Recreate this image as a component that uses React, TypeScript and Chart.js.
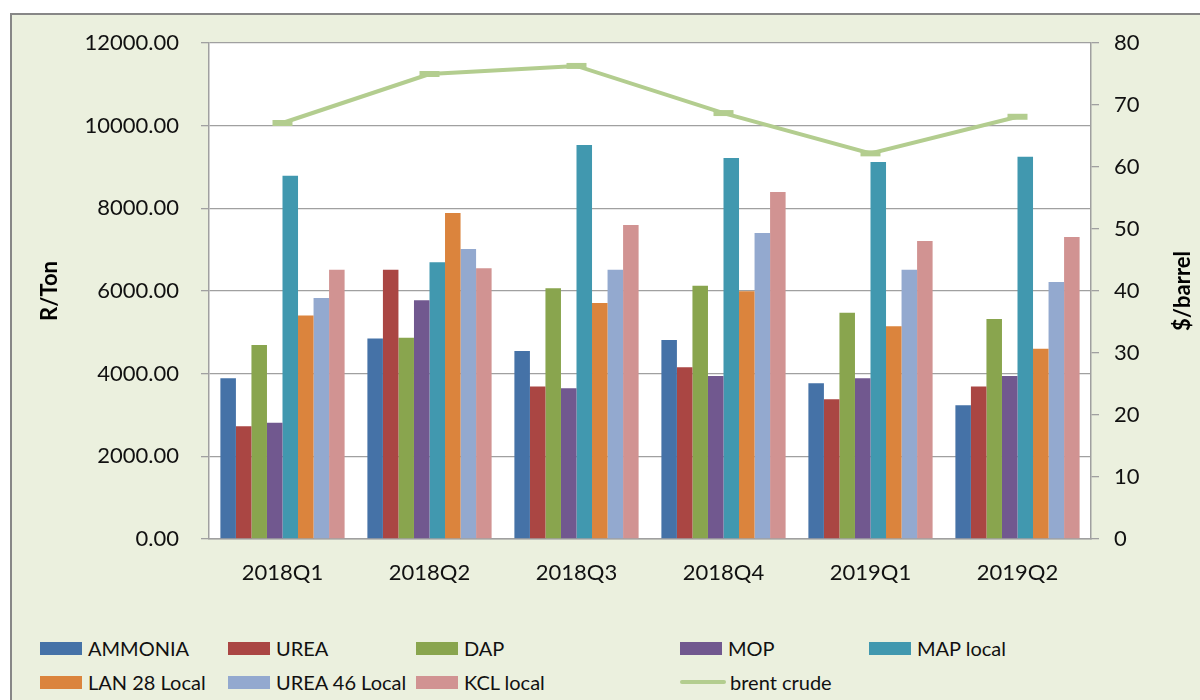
import React, { useEffect, useRef } from "react";
import { Chart, registerables } from "chart.js";

Chart.register(...registerables);

const categories = ["2018Q1", "2018Q2", "2018Q3", "2018Q4", "2019Q1", "2019Q2"];
const ammonia = [3890, 4850, 4550, 4815, 3770, 3235];
const urea = [2730, 6515, 3690, 4155, 3380, 3690];
const dap = [4695, 4870, 6065, 6130, 5475, 5320];
const mop = [2815, 5775, 3645, 3945, 3890, 3945];
const mapLocal = [8790, 6695, 9535, 9220, 9120, 9245];
const lan28Local = [5410, 7890, 5710, 5995, 5145, 4605];
const urea46Local = [5830, 7015, 6515, 7405, 6515, 6220];
const kclLocal = [6515, 6550, 7595, 8395, 7210, 7305];
const brentCrude = [67.1, 75.0, 76.3, 68.7, 62.2, 68.1];

const barNames = ["AMMONIA", "UREA", "DAP", "MOP", "MAP local", "LAN 28 Local", "UREA 46 Local", "KCL local"];
const barColors = ["#4572A7", "#AA4643", "#89A54E", "#71588F", "#4198AF", "#DB843D", "#93A9CF", "#D19392"];
const barSeries = [ammonia, urea, dap, mop, mapLocal, lan28Local, urea46Local, kclLocal];
const lineName = "brent crude";
const lineColor = "#B3CD8F";

const leftAxisTitle = "R/Ton";
const rightAxisTitle = "$/barrel";

const FONT = "Lato, 'Open Sans', sans-serif";

// legend placement (columns / rows)
const legendColX = [40, 228, 416, 680, 869];
const legendRowY = [648, 682];

export default function App() {
  const canvasRef = useRef<HTMLCanvasElement | null>(null);

  useEffect(() => {
    if (!canvasRef.current) return;
    const plotPlugin = {
      id: "plotDecor",
      beforeDraw(chart: any) {
        const { ctx, chartArea } = chart;
        ctx.save();
        ctx.fillStyle = "#FFFFFF";
        ctx.fillRect(chartArea.left, chartArea.top, chartArea.right - chartArea.left, chartArea.bottom - chartArea.top);
        ctx.restore();
      },
      afterDraw(chart: any) {
        const { ctx, chartArea } = chart;
        ctx.save();
        ctx.translate(1183, (chartArea.top + chartArea.bottom) / 2);
        ctx.rotate(-Math.PI / 2);
        ctx.font = `bold 22px ${FONT}`;
        ctx.fillStyle = "#000";
        ctx.textAlign = "center";
        ctx.textBaseline = "middle";
        ctx.fillText(rightAxisTitle, 0, 0);
        ctx.restore();
      },
    };

    const datasets: any[] = barSeries.map((data, i) => ({
      type: "bar",
      label: barNames[i],
      data,
      backgroundColor: barColors[i],
      borderWidth: 0,
      yAxisID: "y",
      order: 1,
      categoryPercentage: 0.845,
      barPercentage: 1,
    }));
    datasets.push({
      type: "line",
      label: lineName,
      data: brentCrude,
      borderColor: lineColor,
      backgroundColor: lineColor,
      borderWidth: 4,
      pointStyle: "line",
      pointRadius: 10,
      pointBorderWidth: 6,
      pointBorderColor: lineColor,
      yAxisID: "y1",
      order: -1,
      tension: 0,
    });

    const chart = new Chart(canvasRef.current, {
      type: "bar",
      data: { labels: categories, datasets },
      plugins: [plotPlugin],
      options: {
        animation: false,
        responsive: false,
        maintainAspectRatio: false,
        layout: { padding: { top: 43, left: 0, right: 0, bottom: 0 } },
        plugins: { legend: { display: false }, tooltip: { enabled: false } },
        scales: {
          x: {
            grid: { display: false, drawTicks: false },
            border: { display: true, color: "#A0A0A0", width: 1.5 },
            ticks: { color: "#111", font: { family: FONT, size: 22 }, padding: 21, maxRotation: 0 },
            afterFit: (s: any) => { s.height = 81; },
          },
          y: {
            position: "left",
            min: 0,
            max: 12000,
            grid: { color: "#A0A0A0", lineWidth: 1.3, drawTicks: true, tickLength: 8 },
            border: { display: true, color: "#A0A0A0", width: 1.5 },
            ticks: {
              stepSize: 2000,
              color: "#111",
              font: { family: FONT, size: 22 },
              padding: 22,
              callback: (v: any) => Number(v).toFixed(2),
            },
            title: {
              display: true,
              text: leftAxisTitle,
              color: "#000",
              font: { family: FONT, size: 22, weight: "bold" },
              padding: { top: 37, bottom: 0 },
            },
            afterFit: (s: any) => { s.width = 209; },
          },
          y1: {
            position: "right",
            min: 0,
            max: 80,
            grid: { drawOnChartArea: false, color: "#A0A0A0", lineWidth: 1.3, drawTicks: true, tickLength: 8 },
            border: { display: true, color: "#A0A0A0", width: 1.5 },
            ticks: { stepSize: 10, color: "#111", font: { family: FONT, size: 22 }, padding: 15 },
            afterFit: (s: any) => { s.width = 109; },
          },
        },
      } as any,
    });
    return () => chart.destroy();
  }, []);

  const legendItems = [
    ...barNames.map((n, i) => ({ name: n, color: barColors[i], line: false })),
    { name: lineName, color: lineColor, line: true },
  ];

  return (
    <div style={{ position: "fixed", left: 0, top: 0, width: 1200, height: 700, background: "#FFFFFF", overflow: "hidden" }}>
      <div
        style={{
          position: "absolute",
          left: 10,
          top: 13,
          width: 1220,
          height: 720,
          background: "#EBF0DE",
          border: "2px solid #878787",
          boxSizing: "border-box",
        }}
      />
      <canvas ref={canvasRef} width={1200} height={620} style={{ position: "absolute", left: 0, top: 0, width: 1200, height: 620 }} />
      {legendItems.map((it, idx) => {
        const col = idx % 5;
        const row = Math.floor(idx / 5);
        const x = legendColX[col];
        const y = legendRowY[row];
        return (
          <div key={it.name} style={{ position: "absolute", left: x, top: y - 14, height: 28, display: "flex", alignItems: "center" }}>
            <div
              style={
                it.line
                  ? { width: 46, height: 4, borderRadius: 2, background: it.color, marginRight: 4 }
                  : { width: 42, height: 13, background: it.color, marginRight: 6 }
              }
            />
            <span style={{ fontFamily: FONT, fontSize: 20, color: "#111", whiteSpace: "nowrap" }}>{it.name}</span>
          </div>
        );
      })}
    </div>
  );
}
